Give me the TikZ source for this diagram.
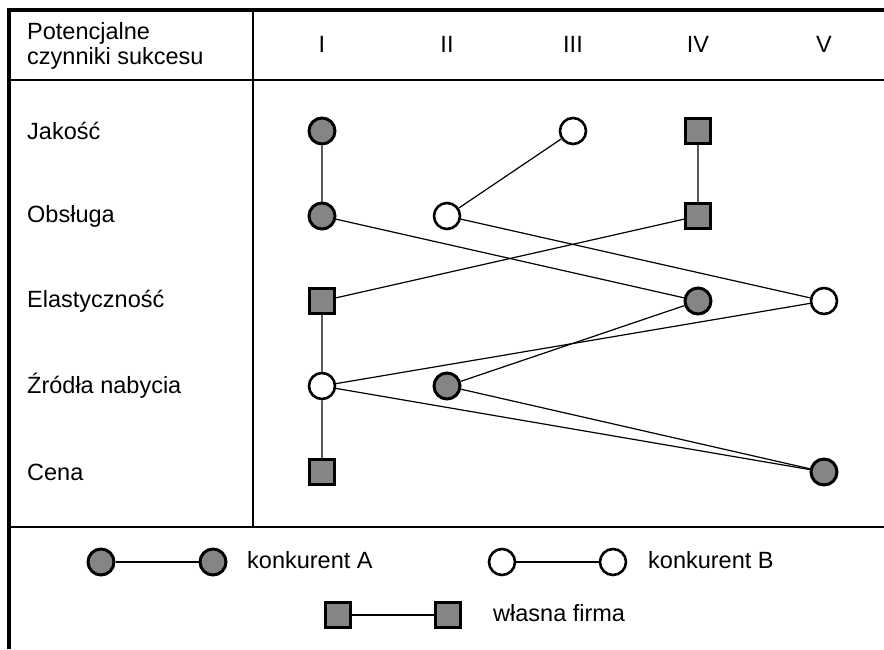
\documentclass[tikz,border=0pt]{standalone}
\usepackage{fontspec}
\setmainfont{Liberation Sans}
\begin{document}
\begin{tikzpicture}[x=1pt,y=-1pt,
  frame/.style={line width=2.2pt},
  link/.style={line width=1.2pt},
  compA/.style={circle,draw,line width=3pt,fill=black!48,minimum size=26pt,inner sep=0pt},
  compB/.style={circle,draw,line width=2.6pt,fill=white,minimum size=26pt,inner sep=0pt},
  own/.style={rectangle,draw,line width=2.8pt,fill=black!48,minimum size=25pt,inner sep=0pt},
  lbl/.style={anchor=west,inner sep=0pt,font=\fontsize{23.5}{25.5}\selectfont},
  colhead/.style={inner sep=0pt,font=\fontsize{23.5}{25.5}\selectfont}]
\useasboundingbox (0,0) rectangle (884,649);

% table frame
\draw[line width=3.2pt] (9,649) -- (9,10) -- (884,10);
\draw[frame] (9,80) -- (884,80);
\draw[frame] (9,527) -- (884,527);
\draw[frame] (253,10) -- (253,527);

% header
\node[lbl,align=left] (head) at (27,46) {Potencjalne\\czynniki sukcesu};
\node[colhead] (cI)   at (322,44) {I};
\node[colhead] (cII)  at (447,44) {II};
\node[colhead] (cIII) at (573,44) {III};
\node[colhead] (cIV)  at (698,44) {IV};
\node[colhead] (cV)   at (824,44) {V};

% row labels
\node[lbl] (rJ) at (27,131) {Jakość};
\node[lbl] (rO) at (27,216) {Obsługa};
\node[lbl] (rE) at (27,301) {Elastyczność};
\node[lbl] (rZ) at (27,386) {Źródła nabycia};
\node[lbl] (rC) at (27,472) {Cena};

% competitor A
\node[compA] (aJ) at (322,131) {};
\node[compA] (aO) at (322,216) {};
\node[compA] (aE) at (698,301) {};
\node[compA] (aZ) at (447,386) {};
\node[compA] (aC) at (824,472) {};

% competitor B
\node[compB] (bJ) at (573,131) {};
\node[compB] (bO) at (447,216) {};
\node[compB] (bE) at (824,301) {};
\node[compB] (bZ) at (322,386) {};

% own company
\node[own] (oJ) at (698,131) {};
\node[own] (oO) at (698,216) {};
\node[own] (oE) at (322,301) {};
\node[own] (oC) at (322,472) {};

% profiles
\draw[link] (aJ) -- (aO) -- (aE) -- (aZ) -- (aC);
\draw[link] (bJ) -- (bO) -- (bE) -- (bZ) -- (aC);
\draw[link] (oJ) -- (oO) -- (oE) -- (bZ) -- (oC);

% legend
\node[compA] (lA1) at (101,562) {};
\node[compA] (lA2) at (213,562) {};
\draw[link] (lA1) -- (lA2);
\node[lbl] (tA) at (247,560) {konkurent A};
\node[compB] (lB1) at (502,562) {};
\node[compB] (lB2) at (613,562) {};
\draw[link] (lB1) -- (lB2);
\node[lbl] (tB) at (648,560) {konkurent B};
\node[own] (lO1) at (338,615) {};
\node[own] (lO2) at (448,615) {};
\draw[link] (lO1) -- (lO2);
\node[lbl] (tO) at (493,613) {własna firma};
\end{tikzpicture}
\end{document}
